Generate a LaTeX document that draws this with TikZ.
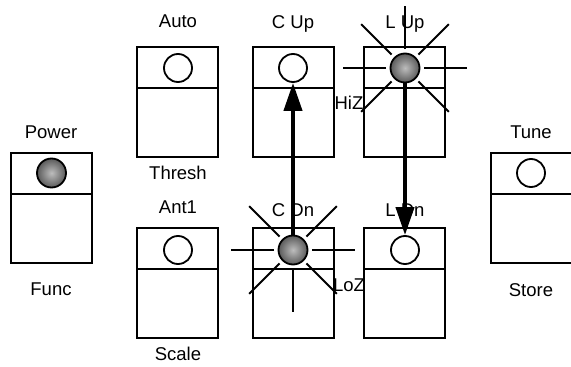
\documentclass[tikz,border=0pt]{standalone}
\usepackage{fontspec}
\setmainfont{Liberation Sans}
\usetikzlibrary{arrows.meta}
\definecolor{ledin}{HTML}{BDBDBD}
\definecolor{ledout}{HTML}{5A5A5A}
\begin{document}
\begin{tikzpicture}[x=1pt,y=-1pt,
  panel/.style={draw, line width=2pt, minimum width=81pt, minimum height=110pt, inner sep=0pt,
    path picture={\draw[line width=2pt] ([yshift=-41pt]path picture bounding box.north west) -- ([yshift=-41pt]path picture bounding box.north east);}},
  ledoff/.style={circle, draw, line width=1.8pt, fill=white, minimum size=28pt, inner sep=0pt},
  ledon/.style={circle, draw, line width=1.8pt, minimum size=29pt, inner sep=0pt, inner color=ledin, outer color=ledout},
  lbl/.style={anchor=base, inner sep=0pt, font=\fontsize{18.5}{22}\selectfont},
  ray/.style={line width=2pt},
  bigarrow/.style={line width=4pt, -{Triangle[length=28pt,width=18pt]}}]
\useasboundingbox (0,0) rectangle (571,367);
% panels
\node[panel] (power) at (51,208) {};
\node[panel] (auto) at (177.5,101.5) {};
\node[panel] (cup) at (293,101.5) {};
\node[panel] (lup) at (404,101.5) {};
\node[panel] (ant) at (177.5,283) {};
\node[panel] (cdn) at (293.5,283) {};
\node[panel] (ldn) at (404.5,283) {};
\node[panel] (tune) at (531,208) {};
% labels
\node[lbl] (tpower) at (51,138) {Power};
\node[lbl] (tfunc) at (51,295) {Func};
\node[lbl] (tauto) at (178,27) {Auto};
\node[lbl] (tthresh) at (178,179) {Thresh};
\node[lbl] (tcup) at (293,28) {C Up};
\node[lbl] (tlup) at (405,28) {L Up};
\node[lbl] (tant) at (178,213) {Ant1};
\node[lbl] (tscale) at (178,360) {Scale};
\node[lbl] (tcdn) at (293,216) {C Dn};
\node[lbl] (tldn) at (405,216) {L Dn};
\node[lbl] (ttune) at (531,138) {Tune};
\node[lbl] (tstore) at (531,296) {Store};
\node[lbl] (thiz) at (349,109) {HiZ};
\node[lbl] (tloz) at (349,291) {LoZ};
% rays
\coordinate (lupc) at (405,68);
\coordinate (cdnc) at (293,250);
\foreach \a in {0,45,...,315} {
  \draw[ray] (lupc) ++(\a:19) -- ++(\a:43);
  \draw[ray] (cdnc) ++(\a:19) -- ++(\a:43);
}
% leds
\node[ledon] (powerled) at (51.5,173) {};
\node[ledoff] (autoled) at (178,68) {};
\node[ledoff] (cupled) at (293,68) {};
\node[ledon] (lupled) at (lupc) {};
\node[ledoff] (antled) at (178,250) {};
\node[ledon] (cdnled) at (cdnc) {};
\node[ledoff] (ldnled) at (405,250) {};
\node[ledoff] (tuneled) at (531,173) {};
% arrows
\draw[bigarrow] (cdnled.north) -- (cupled.south);
\draw[bigarrow] (lupled.south) -- (ldnled.north);
\end{tikzpicture}
\end{document}
